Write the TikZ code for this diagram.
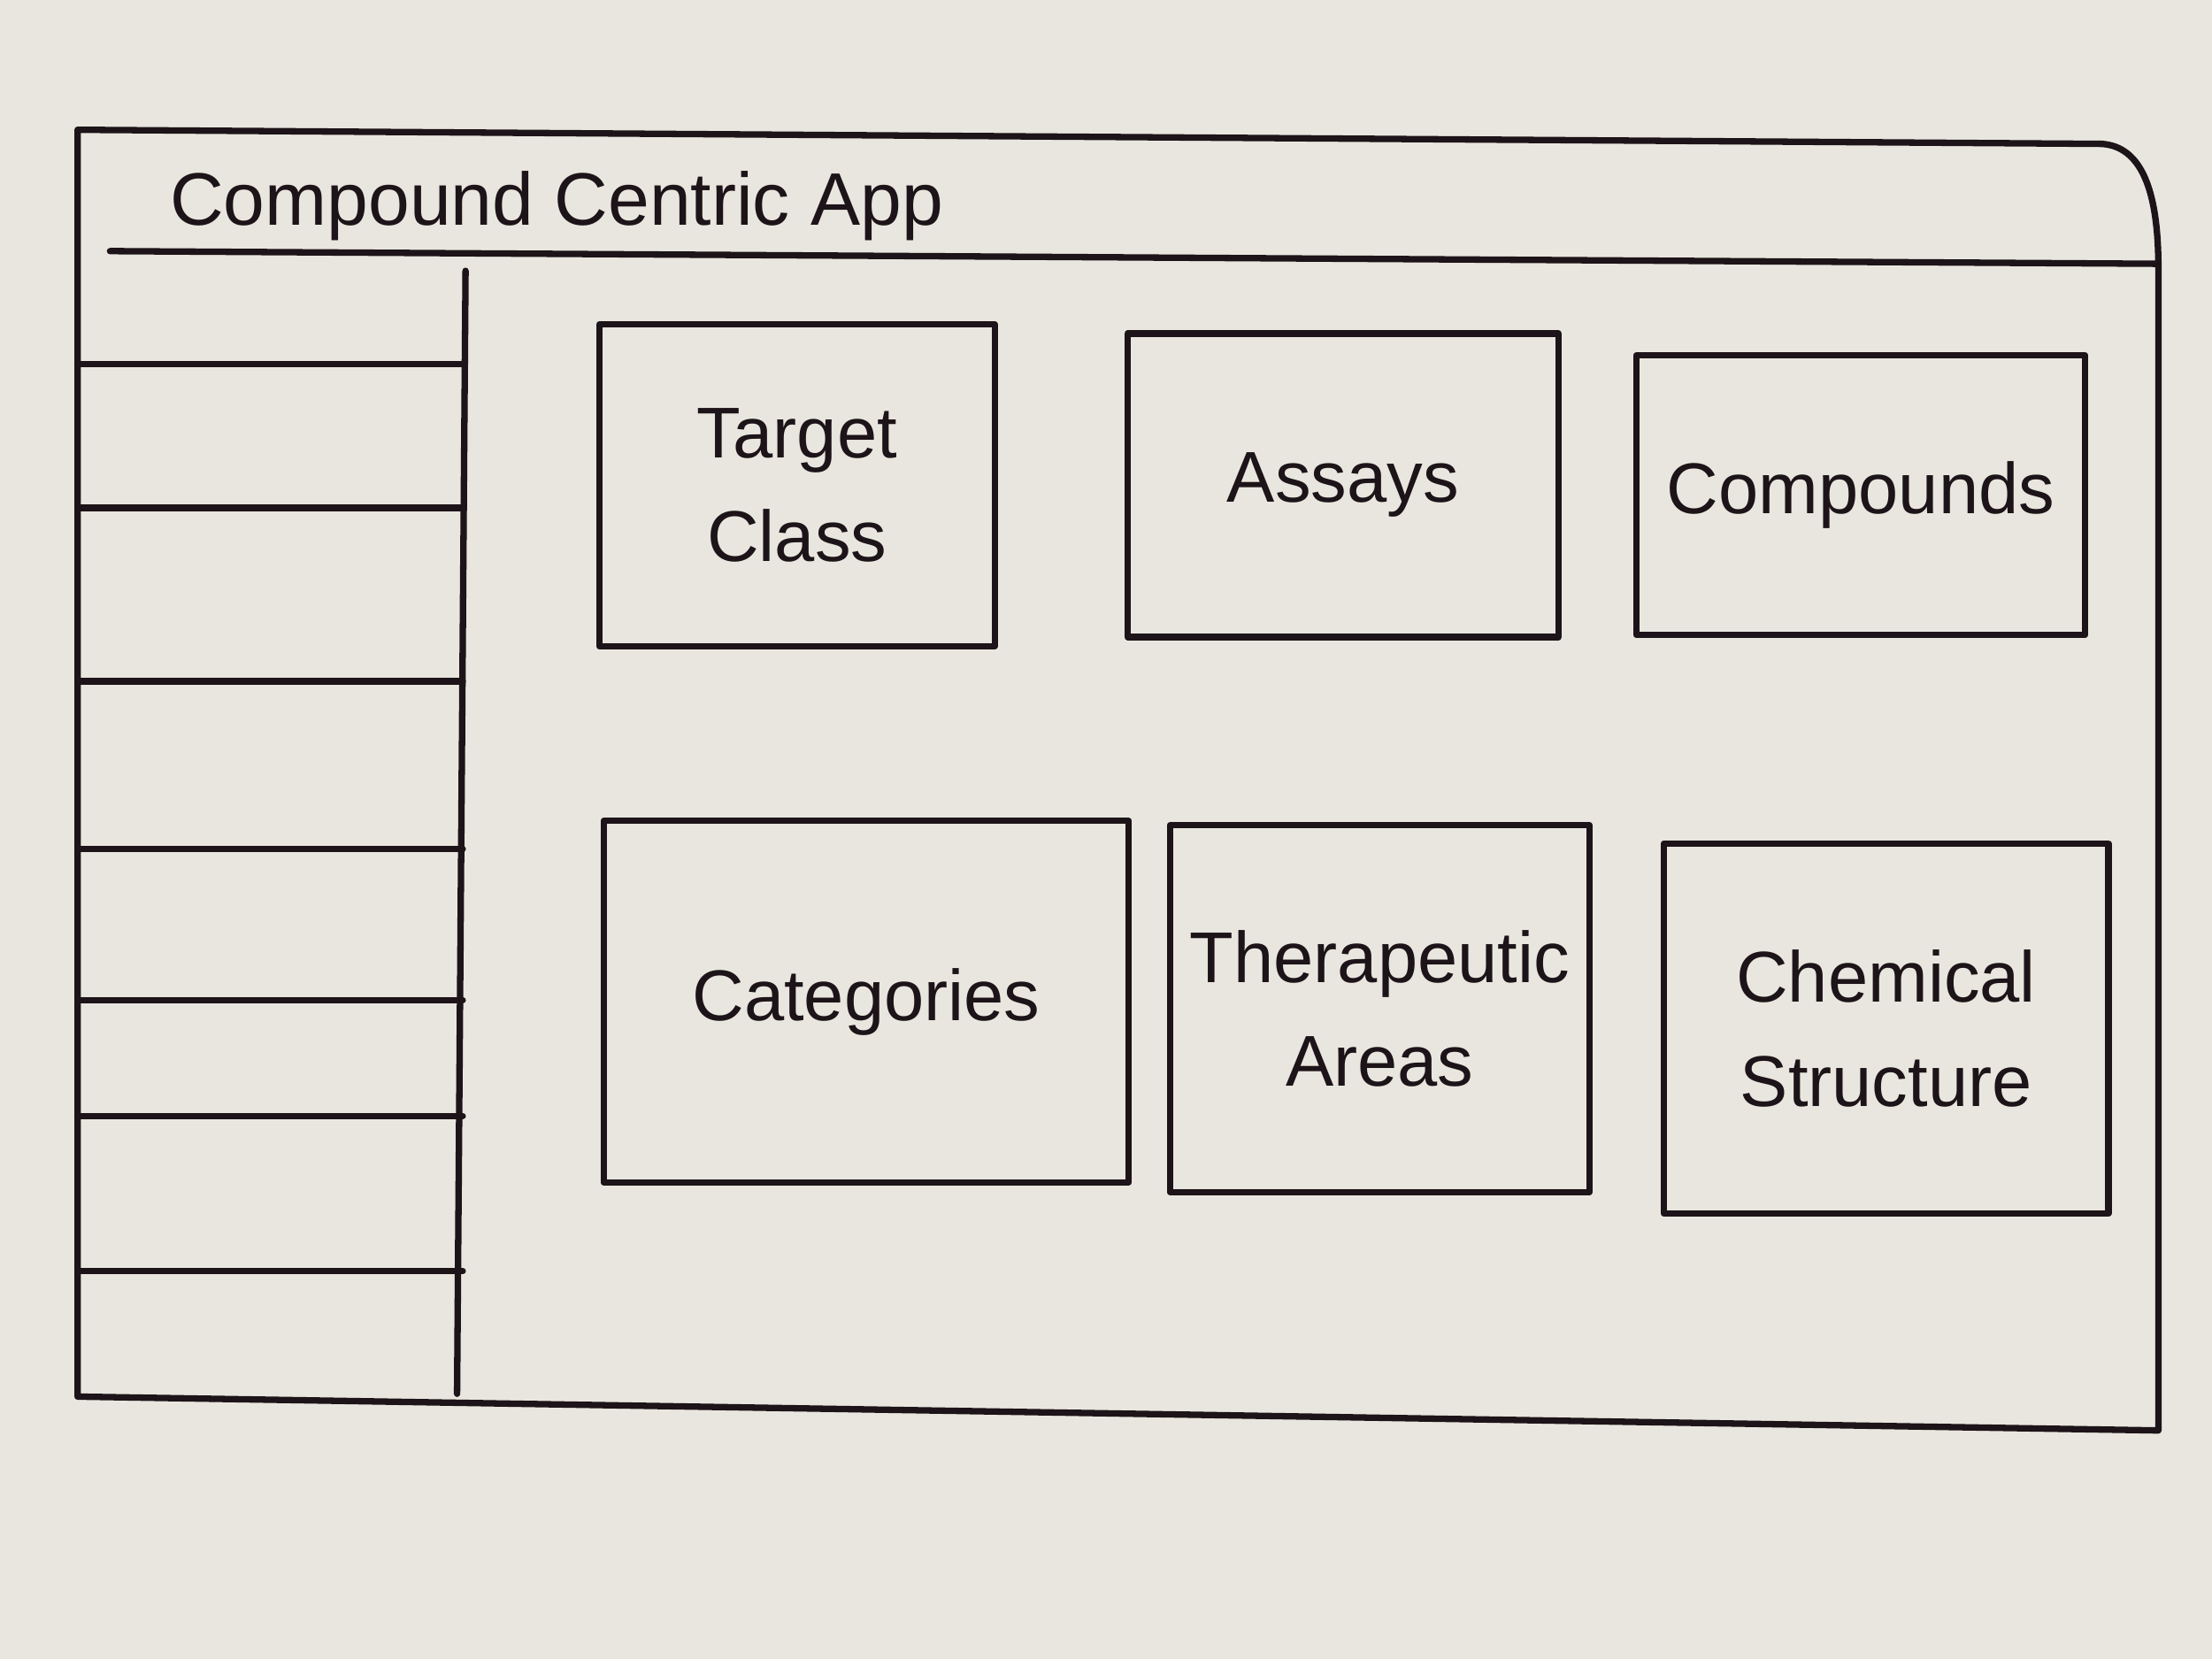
\documentclass[tikz,border=0pt]{standalone}
\usepackage{fontspec}
\setmainfont{Liberation Sans}
\definecolor{paper}{RGB}{232,230,222}
\definecolor{inkc}{RGB}{28,20,24}
\begin{document}
\begin{tikzpicture}[x=0.01cm,y=-0.01cm,
  ink/.style={draw=inkc, line width=1.3pt, line cap=round, line join=round},
  tile/.style={ink, rectangle, align=center, text=inkc, inner sep=2pt, font=\fontsize{14.5}{21}\selectfont},
  navline/.style={ink}]
\useasboundingbox (0,0) rectangle (1568,1176);
\fill[paper] (0,0) rectangle (1568,1176);
% outer window frame
\draw[ink] (55,92) -- (1490,102) .. controls (1518,104) and (1530,135) .. (1530,190) -- (1530,1014) -- (55,990) -- cycle;
% header separator
\draw[ink] (78,178) -- (1530,187);
\node[text=inkc, font=\fontsize{15}{18}\selectfont, anchor=west] (title) at (108,146) {Compound Centric App};
% sidebar divider
\draw[ink] (330,192) -- (324,988);
% sidebar menu lines
\foreach \y in {258,360,483,602,709,791,901}
  \draw[navline] (55,\y) -- (328,\y);
% tiles
\node[tile, minimum width=2.80cm, minimum height=2.28cm] (target) at (565,344) {Target\\Class};
\node[tile, minimum width=3.05cm, minimum height=2.15cm] (assays) at (952,344) {Assays};
\node[tile, minimum width=3.18cm, minimum height=1.98cm] (compounds) at (1319,351) {Compounds};
\node[tile, minimum width=3.72cm, minimum height=2.56cm] (categories) at (614,710) {Categories};
\node[tile, minimum width=2.97cm, minimum height=2.60cm] (therapeutic) at (978,715) {Therapeutic\\Areas};
\node[tile, minimum width=3.15cm, minimum height=2.62cm] (chemical) at (1337,729) {Chemical\\Structure};
\end{tikzpicture}
\end{document}
